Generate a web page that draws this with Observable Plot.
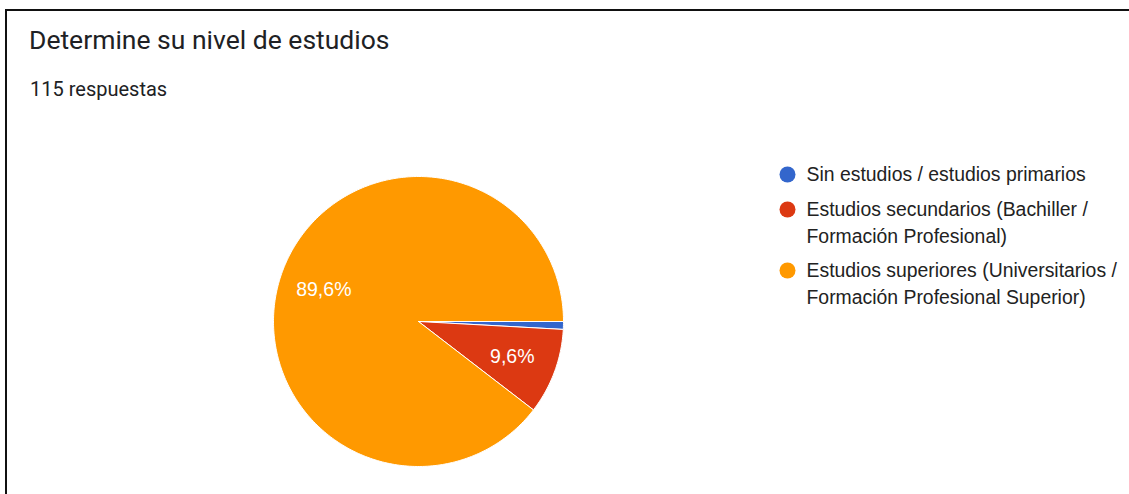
<!DOCTYPE html>
<html>
<head>
<meta charset="utf-8">
<script src="https://cdn.jsdelivr.net/npm/d3@7"></script>
<script src="https://cdn.jsdelivr.net/npm/@observablehq/plot@0.6"></script>
<style>
  html, body { margin: 0; padding: 0; background: #fff; }
  #wrap { position: relative; width: 1129px; height: 494px; overflow: hidden; font-family: Roboto, "Noto Sans", sans-serif; }
  #frame { position: absolute; left: 5px; top: 9px; width: 1140px; height: 600px; border-left: 2px solid #111; border-top: 2px solid #111; box-sizing: border-box; }
  #title { position: absolute; left: 29px; top: 24px; font-size: 26.5px; line-height: 32px; color: #202124; white-space: nowrap; }
  #sub { position: absolute; left: 30px; top: 77px; font-size: 20px; line-height: 24px; color: #202124; white-space: nowrap; }
  #chart { position: absolute; left: 0; top: 0; }
</style>
</head>
<body>
<div id="wrap">
  <div id="chart"></div>
  <div id="frame"></div>
  <div id="title">Determine su nivel de estudios</div>
  <div id="sub">115 respuestas</div>
</div>
<script>
// Data
const categories = [
  "Sin estudios / estudios primarios",
  "Estudios secundarios (Bachiller / Formación Profesional)",
  "Estudios superiores (Universitarios / Formación Profesional Superior)"
];
const legendLines = [
  ["Sin estudios / estudios primarios"],
  ["Estudios secundarios (Bachiller /", "Formación Profesional)"],
  ["Estudios superiores (Universitarios /", "Formación Profesional Superior)"]
];
const counts = [1, 11, 103];
const colors = ["#3366cc", "#dc3912", "#ff9900"];

// Geometry
const W = 1129, H = 494;
const cx = 418, cy = 321, R = 145, labelR = 100;
const total = d3.sum(counts);
const arcs = d3.pie().sort(null).startAngle(0).endAngle(2 * Math.PI)(counts);

const poly = [];
const labels = [];
arcs.forEach((a, i) => {
  const n = Math.max(2, Math.ceil((a.endAngle - a.startAngle) / (Math.PI / 180)));
  poly.push({cat: categories[i], x: cx, y: cy, k: 0});
  for (let j = 0; j <= n; j++) {
    const t = a.startAngle + (a.endAngle - a.startAngle) * j / n;
    poly.push({cat: categories[i], x: cx + R * Math.cos(t), y: cy + R * Math.sin(t), k: j + 1});
  }
  poly.push({cat: categories[i], x: cx, y: cy, k: n + 2});
  const pct = counts[i] / total;
  if (pct > 0.05) {
    const m = (a.startAngle + a.endAngle) / 2;
    labels.push({x: cx + labelR * Math.cos(m), y: cy + labelR * Math.sin(m),
      text: (pct * 100).toFixed(1).replace(".", ",") + "%"});
  }
});

const legendY0 = [174, 209, 270];
const legendDots = categories.map((c, i) => ({cat: c, x: 787, y: legendY0[i]}));
const legendText = [];
legendLines.forEach((lines, i) => lines.forEach((l, j) => legendText.push({x: 806, y: legendY0[i] + j * 27, text: l})));

const plot = Plot.plot({
  width: W, height: H,
  margin: 0,
  x: {domain: [0, W], range: [0, W], axis: null},
  y: {domain: [0, H], range: [0, H], axis: null},
  color: {domain: categories, range: colors},
  style: {fontFamily: "'Liberation Sans', Arial, sans-serif", background: "white"},
  marks: [
    Plot.line(poly, {x: "x", y: "y", z: "cat", fill: "cat", stroke: "white", strokeWidth: 1, strokeLinejoin: "round"}),
    Plot.text(labels, {x: "x", y: "y", text: "text", fill: "white", fontSize: 19.5}),
    Plot.dot(legendDots, {x: "x", y: "y", r: 8, fill: "cat", stroke: null}),
    Plot.text(legendText, {x: "x", y: "y", text: "text", textAnchor: "start", fill: "#222", fontSize: 19.4})
  ]
});
document.getElementById("chart").appendChild(plot);
</script>
</body>
</html>
